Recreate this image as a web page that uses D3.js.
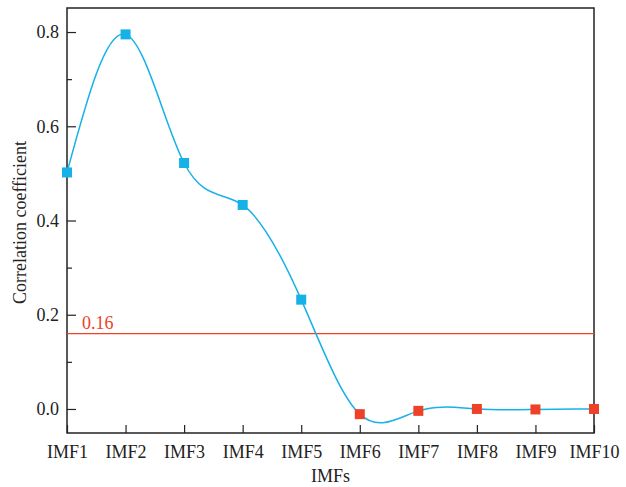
<!DOCTYPE html>
<html><head><meta charset="utf-8">
<script src="https://cdn.jsdelivr.net/npm/d3@7"></script>
<style>body{margin:0;background:#fff}</style>
</head><body>
<svg id="c" width="626" height="487"></svg>
<script>
const categories = ["IMF1","IMF2","IMF3","IMF4","IMF5","IMF6","IMF7","IMF8","IMF9","IMF10"];
const values = [0.502, 0.795, 0.522, 0.433, 0.232, -0.011, -0.004, 0.0, -0.001, 0.0];
const threshold = 0.16;
const yTicks = [0.0, 0.2, 0.4, 0.6, 0.8];
const yMinorTicks = [0.1, 0.3, 0.5, 0.7];

const blue = "#16b1e6", red = "#ee4128";
const font = "'Liberation Serif','DejaVu Serif',serif";
const L = 67, R = 594, T = 8, B = 433;
const svg = d3.select("#c");
const x = d3.scalePoint().domain(categories).range([L, R]);
const y = d3.scaleLinear().domain([-0.051, 0.851]).range([B, T]);

// frame
svg.append("rect").attr("x", L).attr("y", T).attr("width", R - L).attr("height", B - T)
  .attr("fill", "none").attr("stroke", "#222").attr("stroke-width", 1.5);

// y axis
const ya = svg.append("g").attr("transform", `translate(${L},0)`)
  .call(d3.axisRight(y).tickValues(yTicks).tickFormat(d3.format(".1f")).tickSize(9));
ya.select(".domain").remove();
ya.selectAll("line").attr("stroke", "#222").attr("stroke-width", 1.2);
ya.selectAll("text").attr("x", -8).attr("text-anchor", "end")
  .attr("font-family", font).attr("font-size", 18).attr("fill", "#222");
const ym = svg.append("g").attr("transform", `translate(${L},0)`)
  .call(d3.axisRight(y).tickValues(yMinorTicks).tickFormat("").tickSize(5));
ym.select(".domain").remove();
ym.selectAll("line").attr("stroke", "#222").attr("stroke-width", 1.2);

// x axis
const xa = svg.append("g").attr("transform", `translate(0,${B})`)
  .call(d3.axisTop(x).tickSize(8));
xa.select(".domain").remove();
xa.selectAll("line").attr("stroke", "#222").attr("stroke-width", 1.2);
xa.selectAll("text").attr("y", 25).attr("dy", "0").attr("font-family", font)
  .attr("font-size", 18).attr("fill", "#222");

// threshold
svg.append("line").attr("x1", L).attr("x2", R).attr("y1", y(threshold)).attr("y2", y(threshold))
  .attr("stroke", red).attr("stroke-width", 1.3);
svg.append("text").attr("x", L + 15).attr("y", y(threshold) - 5).text("0.16")
  .attr("font-family", font).attr("font-size", 18).attr("fill", red);

// curve
const line = d3.line().x((d, i) => x(categories[i])).y(d => y(d)).curve(d3.curveNatural);
svg.append("path").attr("d", line(values)).attr("fill", "none")
  .attr("stroke", blue).attr("stroke-width", 1.5);

// markers
const s = 10;
svg.selectAll("rect.m").data(values).enter().append("rect").attr("class", "m")
  .attr("x", (d, i) => x(categories[i]) - s / 2).attr("y", d => y(d) - s / 2)
  .attr("width", s).attr("height", s)
  .attr("fill", d => d > threshold ? blue : red);

// labels
svg.append("text").attr("x", (L + R) / 2).attr("y", 482).attr("text-anchor", "middle")
  .text("IMFs").attr("font-family", font).attr("font-size", 18).attr("fill", "#222");
svg.append("text").attr("transform", `translate(26,${(T + B) / 2 + 2}) rotate(-90)`)
  .attr("text-anchor", "middle").text("Correlation coefficient")
  .attr("font-family", font).attr("font-size", 18).attr("fill", "#222");
</script>
</body></html>
